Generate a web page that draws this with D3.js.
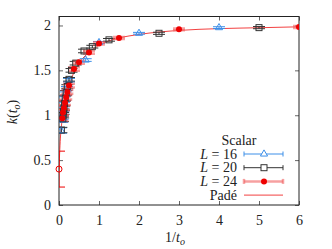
<!DOCTYPE html>
<html>
<head>
<meta charset="utf-8">
<script src="https://cdn.jsdelivr.net/npm/d3@7"></script>
<style>
  body { margin: 0; background: #fff; }
  #chart { width: 332px; height: 249px; }
  text { font-family: "Liberation Serif", "DejaVu Serif", serif; fill: #222; }
</style>
</head>
<body>
<div id="chart"></div>
<script>
// L = 16 (blue triangles)
const l16X   = [4, 2, 1, 0.667, 0.25, 0.2, 0.167, 0.143, 0.125, 0.111, 0.1, 0.091, 0.083, 0.05];
const l16Y   = [1.976, 1.913, 1.81, 1.615, 1.39, 1.30, 1.24, 1.18, 1.12, 1.07, 1.02, 0.98, 0.95, 0.83];
const l16Err = [0.01, 0.01, 0.012, 0.015, 0.02, 0.02, 0.02, 0.025, 0.025, 0.025, 0.025, 0.03, 0.03, 0.03];

// L = 20 (black squares)
const l20X   = [5, 2.5, 1.25, 0.833, 0.625, 0.417, 0.3125, 0.25, 0.208, 0.179, 0.156, 0.139, 0.125, 0.114, 0.104, 0.096, 0.06];
const l20Y   = [1.976, 1.913, 1.84, 1.764, 1.716, 1.58, 1.50, 1.40, 1.32, 1.25, 1.19, 1.13, 1.08, 1.04, 1.00, 0.96, 0.835];
const l20Err = [0.012, 0.012, 0.015, 0.015, 0.02, 0.02, 0.02, 0.02, 0.02, 0.025, 0.025, 0.025, 0.025, 0.03, 0.03, 0.03, 0.03];

// L = 24 (red circles)
const l24X   = [6, 3, 1.5, 1, 0.75, 0.5, 0.375, 0.25, 0.21, 0.18, 0.15, 0.125, 0.1, 0.085];
const l24Y   = [1.983, 1.957, 1.86, 1.80, 1.70, 1.59, 1.515, 1.33, 1.26, 1.20, 1.14, 1.08, 1.03, 0.967];
const l24Err = [0.01, 0.01, 0.012, 0.012, 0.015, 0.015, 0.02, 0.02, 0.02, 0.025, 0.025, 0.025, 0.03, 0.03];

// extrapolated value at 1/t_o = 0
const extrapX = [0];
const extrapY = [0.40];
const extrapErr = [0.20];

// Pade curve
const padeX = [0, 0.02, 0.04, 0.06, 0.08, 0.1, 0.15, 0.2, 0.25, 0.3, 0.375, 0.5, 0.75, 1, 1.5, 2, 3, 4, 5, 6];
const padeY = [0.40, 0.62, 0.78, 0.88, 0.95, 1.01, 1.12, 1.22, 1.31, 1.39, 1.48, 1.58, 1.70, 1.78, 1.86, 1.90, 1.945, 1.965, 1.975, 1.985];

const xTicks = [0, 1, 2, 3, 4, 5, 6];
const yTicks = [0, 0.5, 1, 1.5, 2];

const width = 332, height = 249;
const margin = {top: 16.5, left: 59, right: 33, bottom: 44};
const capW = 6;

const svg = d3.select("#chart").append("svg")
    .attr("width", width)
    .attr("height", height);

const xScale = d3.scaleLinear().domain([0, 6]).range([margin.left, width - margin.right]);
const yScale = d3.scaleLinear().domain([0, 2.1]).range([height - margin.bottom, margin.top]);

// Axes (inward ticks on all four sides)
const fmt = d3.format("~g");
svg.append("g")
    .attr("transform", `translate(0,${height - margin.bottom})`)
    .call(d3.axisBottom(xScale).tickValues(xTicks).tickSize(-4).tickPadding(10).tickFormat(fmt))
    .call(g => g.select(".domain").remove());
svg.append("g")
    .attr("transform", `translate(0,${margin.top})`)
    .call(d3.axisTop(xScale).tickValues(xTicks).tickSize(-4).tickFormat(""))
    .call(g => g.select(".domain").remove());
svg.append("g")
    .attr("transform", `translate(${margin.left},0)`)
    .call(d3.axisLeft(yScale).tickValues(yTicks).tickSize(-4).tickPadding(8).tickFormat(fmt))
    .call(g => g.select(".domain").remove());
svg.append("g")
    .attr("transform", `translate(${width - margin.right},0)`)
    .call(d3.axisRight(yScale).tickValues(yTicks).tickSize(-4).tickFormat(""))
    .call(g => g.select(".domain").remove());

svg.selectAll(".tick line").attr("stroke", "#666");
svg.selectAll(".tick text")
    .style("font-family", "'Liberation Serif', serif")
    .style("font-size", "14px")
    .attr("fill", "#222");

// frame
svg.append("rect")
    .attr("x", margin.left)
    .attr("y", margin.top)
    .attr("width", xScale(6) - xScale(0))
    .attr("height", yScale(0) - yScale(2.1))
    .attr("fill", "none")
    .attr("stroke", "#222")
    .attr("stroke-width", 1);

// clip
svg.append("clipPath").attr("id", "plot")
    .append("rect")
    .attr("x", margin.left)
    .attr("y", margin.top)
    .attr("width", xScale(6) - xScale(0))
    .attr("height", yScale(0) - yScale(2.1));

const plot = svg.append("g").attr("clip-path", "url(#plot)");

function zip(xs, ys, es) {
    return xs.map((x, i) => ({x: x, y: ys[i], e: es ? es[i] : 0}));
}

function errorBars(g, data, color, sw, op) {
    const eb = g.append("g")
        .attr("stroke", color)
        .attr("stroke-width", sw)
        .attr("stroke-opacity", op)
        .attr("fill", "none");
    data.forEach(function(d) {
        const px = xScale(d.x);
        const y0 = yScale(d.y - d.e), y1 = yScale(d.y + d.e);
        eb.append("line").attr("x1", px).attr("x2", px).attr("y1", y0).attr("y2", y1);
        eb.append("line").attr("x1", px - capW).attr("x2", px + capW).attr("y1", y0).attr("y2", y0);
        eb.append("line").attr("x1", px - capW).attr("x2", px + capW).attr("y1", y1).attr("y2", y1);
    });
}

const blue = "#3d8fe8", black = "#333", red = "#ee0000";

const d16 = zip(l16X, l16Y, l16Err);
const d20 = zip(l20X, l20Y, l20Err);
const d24 = zip(l24X, l24Y, l24Err);
const dEx = zip(extrapX, extrapY, extrapErr);

// Pade line
const line = d3.line()
    .x(d => xScale(d.x))
    .y(d => yScale(d.y))
    .curve(d3.curveMonotoneX);
plot.append("path")
    .datum(zip(padeX, padeY))
    .attr("d", line)
    .attr("fill", "none")
    .attr("stroke", red)
    .attr("stroke-opacity", 0.75)
    .attr("stroke-width", 1);

errorBars(plot, d16, blue, 1, 1);
errorBars(plot, d20, black, 1, 1);
errorBars(plot, d24, "#f06060", 2.5, 0.6);
errorBars(plot, dEx, red, 1, 1);

const tri = d3.symbol().type(d3.symbolTriangle).size(22);

plot.selectAll(".tri").data(d16).enter().append("path")
    .attr("class", "tri")
    .attr("d", tri)
    .attr("transform", d => `translate(${xScale(d.x)},${yScale(d.y)})`)
    .attr("fill", "none")
    .attr("stroke", blue)
    .attr("stroke-width", 1);

plot.selectAll(".sq").data(d20).enter().append("rect")
    .attr("class", "sq")
    .attr("x", d => xScale(d.x) - 3)
    .attr("y", d => yScale(d.y) - 3)
    .attr("width", 6)
    .attr("height", 6)
    .attr("fill", "none")
    .attr("stroke", black)
    .attr("stroke-width", 1);

plot.selectAll(".dot").data(d24).enter().append("circle")
    .attr("class", "dot")
    .attr("cx", d => xScale(d.x))
    .attr("cy", d => yScale(d.y))
    .attr("r", 3)
    .attr("fill", red);

// open circle is drawn unclipped, it sits on the axis
svg.selectAll(".ex").data(dEx).enter().append("circle")
    .attr("class", "ex")
    .attr("cx", d => xScale(d.x))
    .attr("cy", d => yScale(d.y))
    .attr("r", 3)
    .attr("fill", "none")
    .attr("stroke", red);

// Axis labels
const yLab = svg.append("text")
    .attr("transform", "translate(17,112) rotate(-90)")
    .attr("text-anchor", "middle")
    .style("font-size", "14px");
yLab.append("tspan").style("font-style", "italic").text("k");
yLab.append("tspan").text("(");
yLab.append("tspan").style("font-style", "italic").text("t");
yLab.append("tspan").style("font-style", "italic").style("font-size", "10px").attr("dy", 3).text("o");
yLab.append("tspan").attr("dy", -3).text(")");

const xLab = svg.append("text")
    .attr("x", 175)
    .attr("y", 242)
    .attr("text-anchor", "middle")
    .style("font-size", "14px");
xLab.append("tspan").text("1/");
xLab.append("tspan").style("font-style", "italic").text("t");
xLab.append("tspan").style("font-style", "italic").style("font-size", "10px").attr("dy", 3).text("o");

// Legend
const legend = svg.append("g");
legend.append("text")
    .attr("x", 239).attr("y", 145)
    .attr("text-anchor", "middle")
    .style("font-size", "14px")
    .text("Scalar");

const legendItems = [
    {label: "16", color: blue, sw: 1, op: 1, mark: "tri"},
    {label: "20", color: black, sw: 1, op: 1, mark: "sq"},
    {label: "24", color: "#f06060", sw: 2.5, op: 0.6, mark: "dot"},
    {label: "Padé", color: red, sw: 1, op: 0.75, mark: "none"}
];
const lx0 = 244, lx1 = 283, lmx = 264;
legendItems.forEach(function(it, i) {
    const cy = 154 + i * 13.7;
    const t = legend.append("text")
        .attr("x", 237).attr("y", cy + 4.5)
        .attr("text-anchor", "end")
        .style("font-size", "14px");
    if (it.mark === "none") {
        t.text(it.label);
    } else {
        t.append("tspan").style("font-style", "italic").text("L");
        t.append("tspan").text(" = " + it.label);
    }
    const g = legend.append("g")
        .attr("stroke", it.color)
        .attr("stroke-width", it.sw)
        .attr("stroke-opacity", it.op);
    g.append("line").attr("x1", lx0).attr("x2", lx1).attr("y1", cy).attr("y2", cy);
    if (it.mark !== "none") {
        g.append("line").attr("x1", lx0).attr("x2", lx0).attr("y1", cy - 2.5).attr("y2", cy + 2.5);
        g.append("line").attr("x1", lx1).attr("x2", lx1).attr("y1", cy - 2.5).attr("y2", cy + 2.5);
    }
    if (it.mark === "tri") {
        legend.append("path").attr("d", tri)
            .attr("transform", `translate(${lmx},${cy})`)
            .attr("fill", "#fff").attr("stroke", blue);
    } else if (it.mark === "sq") {
        legend.append("rect").attr("x", lmx - 3).attr("y", cy - 3)
            .attr("width", 6).attr("height", 6)
            .attr("fill", "#fff").attr("stroke", black);
    } else if (it.mark === "dot") {
        legend.append("circle").attr("cx", lmx).attr("cy", cy).attr("r", 3).attr("fill", red);
    }
});
</script>
</body>
</html>
